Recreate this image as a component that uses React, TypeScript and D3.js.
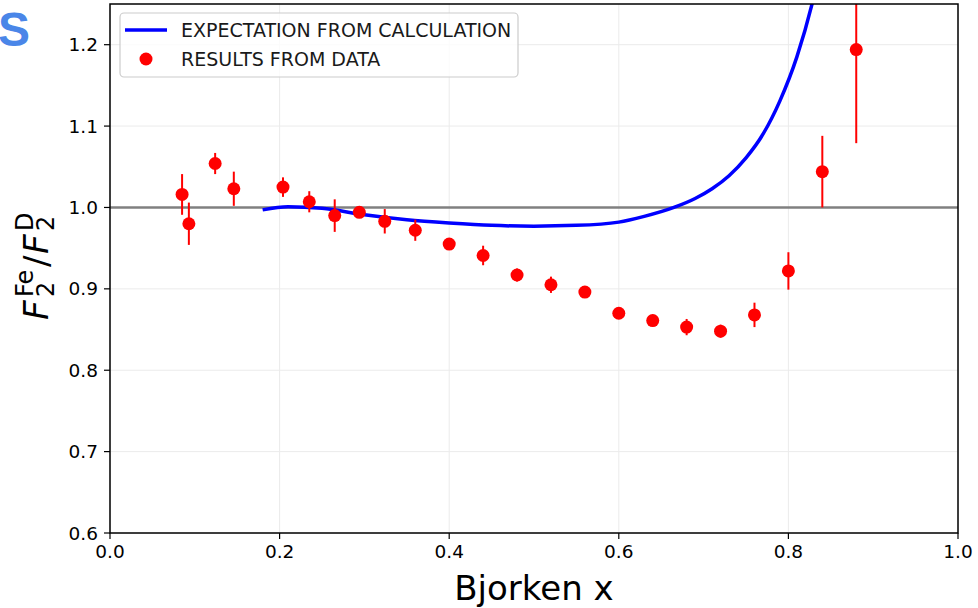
import React from "react";
import * as d3 from "d3";

// Measured structure-function ratio F2(Fe)/F2(D)
const dataX = [0.085, 0.093, 0.124, 0.146, 0.204, 0.235, 0.265, 0.294, 0.324, 0.36, 0.40, 0.44, 0.48, 0.52, 0.56, 0.60, 0.64, 0.68, 0.72, 0.76, 0.80, 0.84, 0.88];
const dataY = [1.016, 0.980, 1.054, 1.023, 1.025, 1.007, 0.990, 0.994, 0.983, 0.972, 0.955, 0.941, 0.917, 0.905, 0.896, 0.870, 0.861, 0.853, 0.848, 0.868, 0.922, 1.044, 1.194];
const dataErr = [0.025, 0.026, 0.013, 0.021, 0.012, 0.013, 0.020, 0.006, 0.015, 0.013, 0.006, 0.012, 0.008, 0.010, 0.006, 0.005, 0.007, 0.010, 0.008, 0.015, 0.023, 0.044, 0.115];

// Calculated expectation curve
const calcX = [0.18, 0.21, 0.25, 0.30, 0.35, 0.40, 0.45, 0.50, 0.55, 0.60, 0.63, 0.665, 0.69, 0.71, 0.73, 0.75, 0.77, 0.79, 0.81, 0.83, 0.84];
const calcY = [0.997, 1.001, 0.999, 0.991, 0.985, 0.981, 0.978, 0.977, 0.978, 0.982, 0.989, 1.000, 1.011, 1.023, 1.039, 1.061, 1.090, 1.131, 1.185, 1.259, 1.306];

const xTicks = [0, 0.2, 0.4, 0.6, 0.8, 1.0];
const yTicks = [0.6, 0.7, 0.8, 0.9, 1.0, 1.1, 1.2];

const legendLabels = ["EXPECTATION FROM CALCULATION", "RESULTS FROM DATA"];

const W = 978;
const H = 608;
const left = 110;
const right = 958;
const top = 4;
const bottom = 533;
const FONT = "DejaVu Sans, sans-serif";

export default function App() {
  const x = d3.scaleLinear().domain([0, 1]).range([left, right]);
  const y = d3.scaleLinear().domain([0.6, 1.25]).range([bottom, top]);

  const calc = calcX.map((v, i) => [v, calcY[i]] as [number, number]);
  const line = d3
    .line<[number, number]>()
    .x((d) => x(d[0]))
    .y((d) => y(d[1]))
    .curve(d3.curveMonotoneX);

  const points = dataX.map((v, i) => ({ x: v, y: dataY[i], e: dataErr[i] }));

  return (
    <svg
      width={W}
      height={H}
      style={{ position: "absolute", left: 0, top: 0, background: "#fff" }}
      fontFamily={FONT}
    >
      <defs>
        <clipPath id="plotArea">
          <rect x={left} y={top} width={right - left} height={bottom - top} />
        </clipPath>
      </defs>

      {/* slide title fragment */}
      <text x={30} y={46} textAnchor="end" fontSize={48} fontWeight="bold" fill="#4a86e8" fontFamily="Liberation Sans, Arial, sans-serif">
        S
      </text>

      {/* grid */}
      <g stroke="#ebebeb" strokeWidth={1}>
        {xTicks.map((t) => (
          <line key={"gx" + t} x1={x(t)} x2={x(t)} y1={top} y2={bottom} />
        ))}
        {yTicks.map((t) => (
          <line key={"gy" + t} x1={left} x2={right} y1={y(t)} y2={y(t)} />
        ))}
      </g>

      <g clipPath="url(#plotArea)">
        {/* unity reference */}
        <line x1={left} x2={right} y1={y(1)} y2={y(1)} stroke="#808080" strokeWidth={2.5} />
        {/* expectation curve */}
        <path d={line(calc) ?? ""} fill="none" stroke="#0000ff" strokeWidth={3.5} />
        {/* data with error bars */}
        {points.map((p, i) => (
          <g key={"p" + i}>
            <line x1={x(p.x)} x2={x(p.x)} y1={y(p.y - p.e)} y2={y(p.y + p.e)} stroke="#ff0000" strokeWidth={2} />
            <circle cx={x(p.x)} cy={y(p.y)} r={6.5} fill="#ff0000" />
          </g>
        ))}
      </g>

      {/* frame */}
      <rect x={left} y={top} width={right - left} height={bottom - top} fill="none" stroke="#000" strokeWidth={1.5} />

      {/* x axis */}
      {xTicks.map((t) => (
        <g key={"xt" + t}>
          <line x1={x(t)} x2={x(t)} y1={bottom} y2={bottom + 6} stroke="#000" strokeWidth={1.2} />
          <text x={x(t)} y={bottom + 25} textAnchor="middle" fontSize={18.5} fill="#000">
            {d3.format(".1f")(t)}
          </text>
        </g>
      ))}
      {/* y axis */}
      {yTicks.map((t) => (
        <g key={"yt" + t}>
          <line x1={left - 6} x2={left} y1={y(t)} y2={y(t)} stroke="#000" strokeWidth={1.2} />
          <text x={left - 12} y={y(t) + 6.5} textAnchor="end" fontSize={18.5} fill="#000">
            {d3.format(".1f")(t)}
          </text>
        </g>
      ))}

      {/* axis titles */}
      <text x={(left + right) / 2} y={600} textAnchor="middle" fontSize={34} fill="#000">
        Bjorken x
      </text>
      <g transform="translate(48,320) rotate(-90)" fill="#000">
        <text x={0} y={0} fontSize={34} fontStyle="italic">F</text>
        <text x={23} y={-15} fontSize={24}>Fe</text>
        <text x={23} y={6} fontSize={24}>2</text>
        <text x={53} y={0} fontSize={34}>/</text>
        <text x={66} y={0} fontSize={34} fontStyle="italic">F</text>
        <text x={89} y={-15} fontSize={24}>D</text>
        <text x={89} y={6} fontSize={24}>2</text>
      </g>

      {/* legend */}
      <g>
        <rect x={120} y={13} width={398} height={64} rx={4} fill="#fff" fillOpacity={0.8} stroke="#cccccc" strokeWidth={1.2} />
        <line x1={125} x2={167} y1={30} y2={30} stroke="#0000ff" strokeWidth={3.5} />
        <circle cx={146} cy={59} r={6.5} fill="#ff0000" />
        <text x={181} y={37} fontSize={19} fill="#1a1a1a">{legendLabels[0]}</text>
        <text x={181} y={66} fontSize={19} fill="#1a1a1a">{legendLabels[1]}</text>
      </g>
    </svg>
  );
}
